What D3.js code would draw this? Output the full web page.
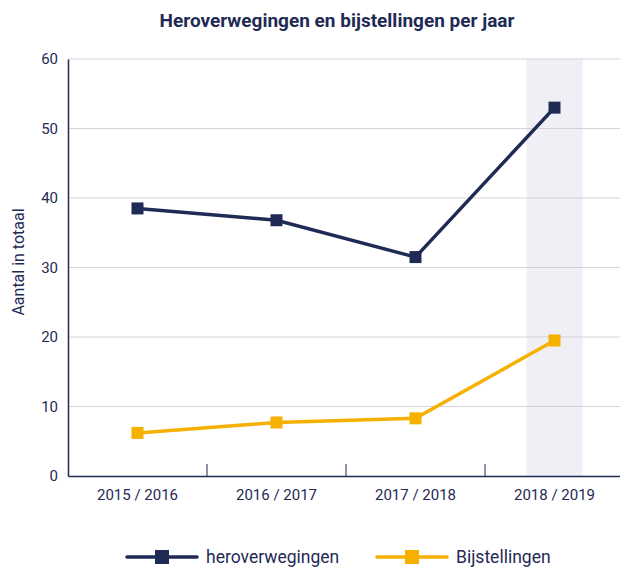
<!DOCTYPE html>
<html><head><meta charset="utf-8">
<script src="https://cdn.jsdelivr.net/npm/d3@7"></script>
<style>body{margin:0;background:#fff;} svg{display:block;font-family:Roboto, "Noto Sans", sans-serif;}</style>
</head><body>
<svg id="c" width="620" height="568"></svg>
<script>
const categories = ["2015 / 2016", "2016 / 2017", "2017 / 2018", "2018 / 2019"];
const heroverwegingen = [38.5, 36.8, 31.5, 53.0];
const bijstellingen = [6.2, 7.7, 8.3, 19.5];
const yTicks = [0, 10, 20, 30, 40, 50, 60];
const highlighted = "2018 / 2019";
const seriesNames = ["heroverwegingen", "Bijstellingen"];

const navy = "#1f2a55", orange = "#f5b000", textCol = "#1f2a55";
const svg = d3.select("#c");
const m = {l: 68, r: 624, t: 59, b: 476};
const x = d3.scaleBand().domain(categories).range([m.l, m.r]);
const y = d3.scaleLinear().domain([0, 60]).range([m.b, m.t]);

// title
svg.append("text").attr("x", 337).attr("y", 27).attr("text-anchor", "middle")
  .attr("font-size", 19).attr("font-weight", 700).attr("fill", textCol)
  .text("Heroverwegingen en bijstellingen per jaar");

// highlight band
const cx = x(highlighted) + x.bandwidth() / 2;
svg.append("rect").attr("x", cx - 28).attr("width", 56).attr("y", m.t).attr("height", m.b - m.t).attr("fill", "#efeff5");

// gridlines
svg.append("g").selectAll("line").data(yTicks.filter(d => d > 0)).join("line")
  .attr("x1", m.l).attr("x2", 620).attr("y1", d => y(d)).attr("y2", d => y(d))
  .attr("stroke", "#d3d3dc").attr("stroke-width", 1);

// y axis
const ya = svg.append("g").attr("transform", `translate(${m.l},0)`)
  .call(d3.axisLeft(y).tickValues(yTicks).tickSize(0).tickPadding(10));
ya.select(".domain").attr("stroke", navy).attr("stroke-width", 1.5);
ya.selectAll("text").attr("font-size", 15).attr("fill", textCol).attr("font-family", "Roboto, sans-serif");

// x axis
const xa = svg.append("g").attr("transform", `translate(0,${m.b})`)
  .call(d3.axisBottom(x).tickSize(0).tickPadding(13));
xa.select(".domain").attr("stroke", navy).attr("stroke-width", 1.5);
xa.selectAll("text").attr("font-size", 15).attr("fill", textCol).attr("font-family", "Roboto, sans-serif").attr("dy", "0.71em");
// inner tick marks at band boundaries
svg.append("g").selectAll("line").data(categories.slice(1)).join("line")
  .attr("x1", d => x(d)).attr("x2", d => x(d)).attr("y1", m.b).attr("y2", m.b - 12)
  .attr("stroke", navy).attr("stroke-width", 1);

// y label
svg.append("text").attr("transform", "translate(24,262) rotate(-90)").attr("text-anchor", "middle")
  .attr("font-size", 16).attr("fill", textCol).text("Aantal in totaal");

const line = d3.line().x((d, i) => x(categories[i]) + x.bandwidth() / 2).y(d => y(d));
function drawSeries(vals, col) {
  svg.append("path").datum(vals).attr("d", line).attr("fill", "none").attr("stroke", col).attr("stroke-width", 3.5);
  svg.append("g").selectAll("rect").data(vals).join("rect")
    .attr("x", (d, i) => x(categories[i]) + x.bandwidth() / 2 - 6).attr("y", d => y(d) - 6)
    .attr("width", 12).attr("height", 12).attr("fill", col);
}
drawSeries(heroverwegingen, navy);
drawSeries(bijstellingen, orange);

// legend
const legend = [{name: seriesNames[0], col: navy, x0: 127, x1: 197, tx: 206},
                {name: seriesNames[1], col: orange, x0: 377, x1: 447, tx: 456}];
const lg = svg.append("g").selectAll("g").data(legend).join("g");
lg.append("line").attr("x1", d => d.x0).attr("x2", d => d.x1).attr("y1", 557).attr("y2", 557)
  .attr("stroke", d => d.col).attr("stroke-width", 3.5).attr("stroke-linecap", "round");
lg.append("rect").attr("x", d => (d.x0 + d.x1) / 2 - 7).attr("y", 550).attr("width", 14).attr("height", 14).attr("fill", d => d.col);
lg.append("text").attr("x", d => d.tx).attr("y", 563).attr("font-size", 17.5).attr("fill", textCol).text(d => d.name);
</script>
</body></html>
